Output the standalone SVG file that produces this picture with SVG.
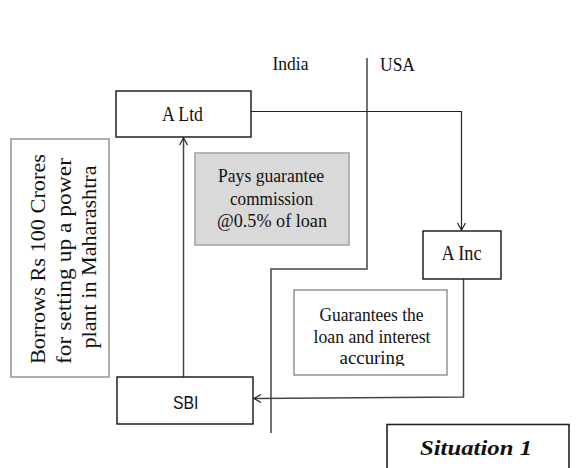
<svg xmlns="http://www.w3.org/2000/svg" width="585" height="468" viewBox="0 0 585 468">
<style>
.t{font-family:"Liberation Serif","Times New Roman",serif;fill:#111;}
.s{font-family:"Liberation Sans",Arial,sans-serif;fill:#111;}
.box{fill:#fff;stroke:#111;stroke-width:1.4;}
.gbox{fill:#fff;stroke:#9a9a9a;stroke-width:1.6;}
.shade{fill:#d9d9d9;stroke:#a6a6a6;stroke-width:1.6;}
.conn{fill:none;stroke:#222;stroke-width:1.2;}
.conn2{fill:none;stroke:#444;stroke-width:1.5;}
</style>
<defs>
<marker id="arr" markerUnits="userSpaceOnUse" markerWidth="10" markerHeight="10" refX="8" refY="4.5" orient="auto">
<path d="M1,0.5 L8,4.5 L1,8.5" fill="none" stroke="#222" stroke-width="1.2"/>
</marker>
<clipPath id="clipG"><rect x="294" y="290" width="153" height="76"/></clipPath>
</defs>

<g id="labels">
<text class="t" x="272.5" y="69.5" font-size="19" textLength="36" lengthAdjust="spacingAndGlyphs">India</text>
<text class="t" x="380" y="71" font-size="19" textLength="35" lengthAdjust="spacingAndGlyphs">USA</text>
</g>

<g id="connectors">
<path class="conn2" d="M367,58 V269 H271 V433"/>
<path class="conn" d="M251,111.5 H461.5 V230" marker-end="url(#arr)"/>
<path class="conn2" d="M183.5,377 V138" marker-end="url(#arr)"/>
<path class="conn2" d="M463.5,279 V397 L254,398.5" marker-end="url(#arr)"/>
</g>

<g id="altd">
<rect class="box" x="116" y="91" width="135" height="46"/>
<text class="t" x="162" y="121" font-size="20" textLength="41" lengthAdjust="spacingAndGlyphs">A Ltd</text>
</g>

<g id="borrows">
<rect class="gbox" x="11" y="139" width="98" height="238"/>
<text class="t" font-size="22" text-anchor="middle" transform="translate(45,259) rotate(-90)" textLength="210" lengthAdjust="spacingAndGlyphs">Borrows Rs 100 Crores</text>
<text class="t" font-size="22" text-anchor="middle" transform="translate(70.5,261) rotate(-90)" textLength="206" lengthAdjust="spacingAndGlyphs">for setting up a power</text>
<text class="t" font-size="22" text-anchor="middle" transform="translate(96,257) rotate(-90)" textLength="183" lengthAdjust="spacingAndGlyphs">plant in Maharashtra</text>
</g>

<g id="pays">
<rect class="shade" x="195" y="153" width="154" height="92"/>
<text class="t" x="218" y="182" font-size="19.5" textLength="106" lengthAdjust="spacingAndGlyphs">Pays guarantee</text>
<text class="t" x="230" y="205" font-size="19.5" textLength="83" lengthAdjust="spacingAndGlyphs">commission</text>
<text class="t" x="217" y="227" font-size="19.5" textLength="110" lengthAdjust="spacingAndGlyphs">@0.5% of loan</text>
</g>

<g id="ainc">
<rect class="box" x="423" y="231" width="78" height="48"/>
<text class="t" x="441.5" y="259.5" font-size="20" textLength="40" lengthAdjust="spacingAndGlyphs">A Inc</text>
</g>

<g id="guarantees">
<rect x="294" y="290" width="153" height="85" fill="#fff" stroke="#8c8c8c" stroke-width="1.4"/>
<g clip-path="url(#clipG)">
<text class="t" x="319.5" y="321" font-size="19.5" textLength="104" lengthAdjust="spacingAndGlyphs">Guarantees the</text>
<text class="t" x="313.5" y="342.5" font-size="19.5" textLength="117" lengthAdjust="spacingAndGlyphs">loan and interest</text>
<text class="t" x="339.5" y="363.5" font-size="19.5" textLength="65" lengthAdjust="spacingAndGlyphs">accuring</text>
</g>
</g>

<g id="sbi">
<rect class="box" x="117" y="377" width="136" height="47"/>
<text class="s" x="173" y="408.5" font-size="18" textLength="25.5" lengthAdjust="spacingAndGlyphs">SBI</text>
</g>

<g id="situation">
<rect x="387" y="424.5" width="182" height="60" fill="#fff" stroke="#222" stroke-width="1.6"/>
<text class="t" x="420" y="455" font-size="22" font-weight="bold" font-style="italic" textLength="112" lengthAdjust="spacingAndGlyphs">Situation 1</text>
</g>
</svg>
